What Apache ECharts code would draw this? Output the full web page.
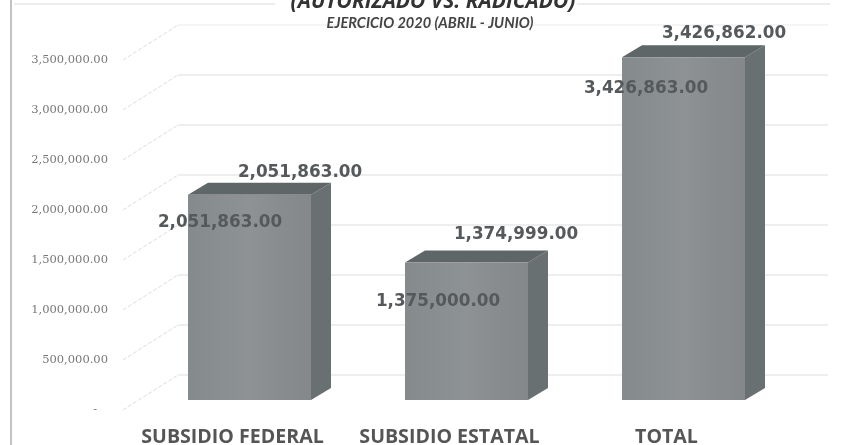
<!DOCTYPE html>
<html><head><meta charset="utf-8">
<style>html,body{margin:0;padding:0;background:#fff}#c{width:848px;height:445px;filter:blur(0.7px)}</style>
<script src="https://cdn.jsdelivr.net/npm/echarts@6/dist/echarts.min.js"></script>
</head><body><div id="c"></div>
<script>
const categories = ['SUBSIDIO FEDERAL','SUBSIDIO ESTATAL','TOTAL'];
const autorizado = [2051863, 1375000, 3426863];
const radicado = [2051863, 1374999, 3426862];
const yTicks = [0,500000,1000000,1500000,2000000,2500000,3000000,3500000];
const titleText = '(AUTORIZADO VS. RADICADO)';
const subtitleText = 'EJERCICIO 2020 (ABRIL - JUNIO)';
// label nudges relative to each bar's front-left / top corner
const nudgeA = [[32,28],[33,39],[24,31]];
const nudgeR = [[112,-22],[111,-28],[102,-24]];
const nudgeCat = [-17,-17,-17];
const fmt = v => v.toLocaleString('en-US',{minimumFractionDigits:2,maximumFractionDigits:2});
const BW=123, DX=20, DY=12, PLANE=10, WALLX=55, WALLY=35, WALLEND=828;
const labelFont = 'bold 16.8px "DejaVu Sans"';
const chart = echarts.init(document.getElementById('c'));
function poly(points, fill){return {type:'polygon',shape:{points},style:{fill}};}
chart.setOption({
  animation:false,
  backgroundColor:'#ffffff',
  title:[
    {text:titleText,left:428,textAlign:'center',top:-13,textStyle:{fontFamily:'Open Sans',fontStyle:'italic',fontWeight:'bold',fontSize:21,color:'#333'}},
    {text:subtitleText,left:425,textAlign:'center',top:11,textStyle:{fontFamily:'Lato',fontStyle:'italic',fontWeight:'bold',fontSize:14.6,color:'#444'}}
  ],
  grid:{left:141,width:651,top:60,height:350},
  xAxis:{type:'category',data:categories,axisLine:{show:false},axisTick:{show:false},axisLabel:{show:false},splitLine:{show:false}},
  yAxis:{type:'value',min:0,max:3500000,interval:500000,axisLine:{show:false},axisTick:{show:false},splitLine:{show:false},
    axisLabel:{margin:33,color:'#777',fontFamily:'DejaVu Serif',fontSize:11.5,formatter:v=>v===0?'-\u00a0\u00a0\u00a0':fmt(v)}},
  series:[
    {type:'custom',z:1,silent:true,clip:false,data:yTicks.map(v=>[0,v]),
     renderItem(p,api){
       const y=api.coord([0,api.value(1)])[1];
       const x0=p.coordSys.x-18;
       const color=api.value(1)===3500000?'#ececec':'#dedede';
       return {type:'group',children:[
         {type:'line',shape:{x1:x0,y1:y,x2:x0+WALLX,y2:y-WALLY},style:{stroke:'#dcdcdc',lineWidth:1,lineDash:[4,2]}},
         {type:'line',shape:{x1:x0+WALLX,y1:y-WALLY,x2:WALLEND,y2:y-WALLY},style:{stroke:color,lineWidth:1.2}}
       ]};
     }},
    {type:'custom',name:'Autorizado',z:2,clip:false,data:autorizado.map((v,i)=>[i,v]),
     renderItem(p,api){
       const i=api.value(0),v=api.value(1);
       const c=api.coord([i,v]),b=api.coord([i,0]);
       const l=c[0]-BW/2,r=c[0]+BW/2,t=c[1]-PLANE,bt=b[1]-PLANE;
       return {type:'group',children:[
         poly([[r,t],[r+DX,t-DY],[r+DX,bt-DY],[r,bt]],'#697072'),
         poly([[l,t],[l+DX,t-DY],[r+DX,t-DY],[r,t]],'#5f6668'),
         {type:'rect',shape:{x:l,y:t,width:BW,height:bt-t},style:{fill:new echarts.graphic.LinearGradient(0,0,1,0,[
           {offset:0,color:'#858a8c'},{offset:.5,color:'#8e9294'},{offset:.75,color:'#888c8e'},{offset:1,color:'#84888a'}])}},
         {type:'text',style:{x:l+nudgeA[i][0],y:t+nudgeA[i][1],text:fmt(v),font:labelFont,fill:'#55595b',textAlign:'center',textVerticalAlign:'middle'}}
       ]};
     }},
    {type:'custom',name:'Radicado',z:3,clip:false,data:radicado.map((v,i)=>[i,v]),
     renderItem(p,api){
       const i=api.value(0),v=api.value(1);
       const c=api.coord([i,v]);
       const l=c[0]-BW/2,t=c[1]-PLANE;
       return {type:'text',style:{x:l+nudgeR[i][0],y:t+nudgeR[i][1],text:fmt(v),font:labelFont,fill:'#55595b',textAlign:'center',textVerticalAlign:'middle'}};
     }},
    {type:'custom',z:3,silent:true,clip:false,data:categories.map((n,i)=>[i,0]),
     renderItem(p,api){
       const i=api.value(0);
       const c=api.coord([i,0]);
       return {type:'text',style:{x:c[0]+nudgeCat[i],y:c[1]+27,text:categories[i],font:'bold 19.6px "Open Sans"',fill:'#555',textAlign:'center',textVerticalAlign:'middle'}};
     }}
  ],
  graphic:[
    {type:'line',shape:{x1:11,y1:0,x2:11,y2:445},style:{stroke:'#9a9a9a',lineWidth:1.2},z:0},
    {type:'line',shape:{x1:14,y1:4,x2:275,y2:4},style:{stroke:'#dcdcdc',lineWidth:1},z:0},
    {type:'line',shape:{x1:577,y1:4,x2:830,y2:4},style:{stroke:'#dcdcdc',lineWidth:1},z:0}
  ]
});
</script></body></html>
